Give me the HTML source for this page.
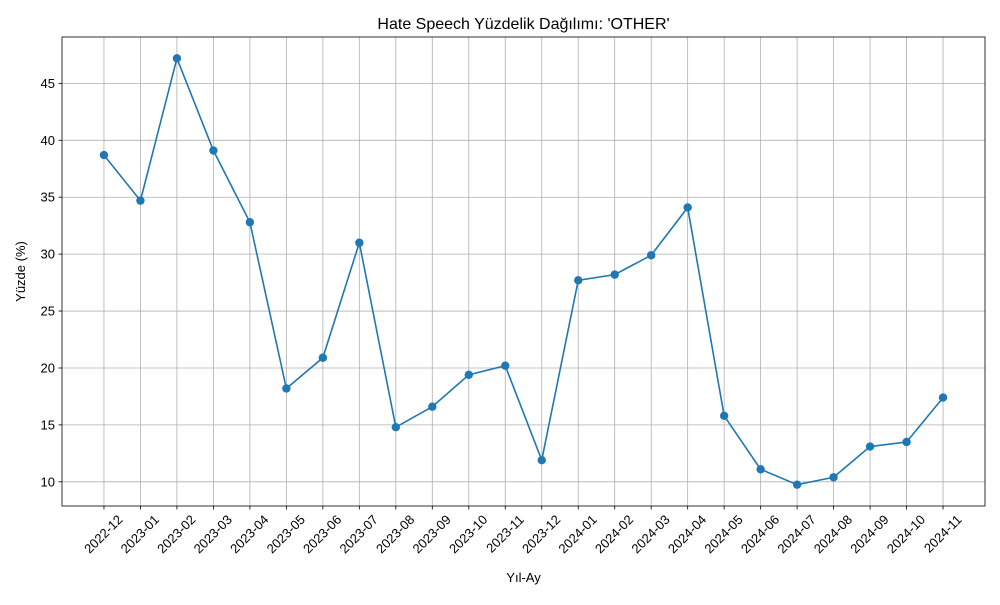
<!DOCTYPE html>
<html><head><meta charset="utf-8"><style>
body{margin:0;background:#fff;font-family:"Liberation Sans","DejaVu Sans",sans-serif}
</style></head><body>
<svg id="c" width="1000" height="600" xmlns="http://www.w3.org/2000/svg"></svg>
<script>
const categories=["2022-12","2023-01","2023-02","2023-03","2023-04","2023-05","2023-06","2023-07","2023-08","2023-09","2023-10","2023-11","2023-12","2024-01","2024-02","2024-03","2024-04","2024-05","2024-06","2024-07","2024-08","2024-09","2024-10","2024-11"];
const values=[38.7,34.7,47.2,39.1,32.8,18.2,20.9,31.0,14.8,16.6,19.4,20.2,11.9,27.7,28.2,29.9,34.1,15.8,11.1,9.75,10.4,13.1,13.5,17.4];
const yTicks=[10,15,20,25,30,35,40,45];
const NS="http://www.w3.org/2000/svg";
const svg=document.getElementById('c');
const L=62,R=985,T=37,B=506;
const n=categories.length;
const xm=(n-1)*0.05;
const x=i=>L+(i+xm)/(n-1+2*xm)*(R-L);
const vmin=Math.min(...values),vmax=Math.max(...values),pad=(vmax-vmin)*0.05;
const y0=vmin-pad,y1=vmax+pad;
const y=v=>B-(v-y0)/(y1-y0)*(B-T);
function el(t,a,p){const e=document.createElementNS(NS,t);for(const k in a)e.setAttribute(k,a[k]);(p||svg).appendChild(e);return e;}
const grid=el('g',{});


categories.forEach((c,i)=>{
  el('line',{x1:x(i),x2:x(i),y1:T,y2:B,stroke:'#b0b0b0','stroke-width':0.8},grid);
  el('line',{x1:x(i),x2:x(i),y1:B,y2:B+3.5,stroke:'#000','stroke-width':0.8});
  const t=el('text',{x:0,y:0,'font-size':13,'text-anchor':'end',transform:`translate(${x(i)+13},${B+8}) rotate(-45)`,dy:'0.7em'});
  t.textContent=c;
  
  
});
yTicks.forEach(v=>{
  el('line',{x1:L,x2:R,y1:y(v),y2:y(v),stroke:'#b0b0b0','stroke-width':0.8},grid);
  el('line',{x1:L-3.5,x2:L,y1:y(v),y2:y(v),stroke:'#000','stroke-width':0.8});
  const t=el('text',{x:L-7,y:y(v)+4.5,'font-size':13,'text-anchor':'end'});
  t.textContent=v;
  
  
});
const line=el('polyline',{points:values.map((v,i)=>x(i)+','+y(v)).join(' '),fill:'none',stroke:'#1f77b4','stroke-width':1.6});


values.forEach((v,i)=>{
  const c=el('circle',{cx:x(i),cy:y(v),r:4.2,fill:'#1f77b4'});
  
  
});
const frame=el('rect',{x:L,y:T,width:R-L,height:B-T,fill:'none',stroke:'#000','stroke-width':0.8});


const title=el('text',{x:(L+R)/2,y:29,'font-size':16,'text-anchor':'middle'});
title.textContent="Hate Speech Yüzdelik Dağılımı: 'OTHER'";


const xl=el('text',{x:(L+R)/2,y:582,'font-size':13,'text-anchor':'middle'});
xl.textContent="Yıl-Ay";


const yl=el('text',{x:0,y:0,'font-size':13,'text-anchor':'middle',transform:`translate(25,${(T+B)/2}) rotate(-90)`});
yl.textContent="Yüzde (%)";


</script>
</body></html>
